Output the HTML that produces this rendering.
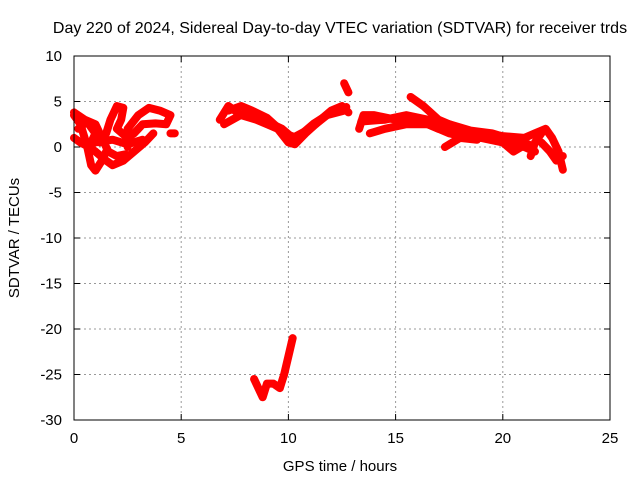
<!DOCTYPE html>
<html><head><meta charset="utf-8"><style>
body{margin:0;background:#fff}
svg{font-family:"Liberation Sans",sans-serif}
</style></head><body>
<svg width="640" height="480" xmlns="http://www.w3.org/2000/svg">
<rect width="640" height="480" fill="#fff"/>
<text x="340" y="33" font-size="16" text-anchor="middle">Day 220 of 2024, Sidereal Day-to-day VTEC variation (SDTVAR) for receiver trds</text>
<g id="grid"></g>
<g id="ticks"></g>
<g id="series"></g>
<rect x="74" y="56" width="536" height="364" fill="none" stroke="#000" stroke-width="1"/>
<text x="340" y="471" font-size="15" text-anchor="middle">GPS time / hours</text>
<text transform="translate(19,238) rotate(-90)" font-size="15" text-anchor="middle">SDTVAR / TECUs</text>
</svg>
<script>
const xTicks=[0,5,10,15,20,25];
const yTicks=[10,5,0,-5,-10,-15,-20,-25,-30];
const tracks=[
[[0,3.5],[0.3,2.5],[0.6,0.2],[0.8,-2],[1,-2.6],[1.3,-1.5],[1.5,-0.5]],
[[0,1],[0.3,0.5],[0.7,0],[1,-0.5],[1.5,-1.5],[1.8,-2],[2.3,-1.5],[2.8,-0.5],[3.3,0.5],[3.7,1.5]],
[[0,3.8],[0.5,3],[1,2.5],[1.3,1],[1.6,-0.5],[2,-1],[2.4,-0.8]],
[[0.2,2],[0.6,2.8],[1,1.5],[0.8,0.5]],
[[1.2,0.5],[1.5,1.5],[1.7,3],[2,4.5],[2.3,4.3],[2.2,3],[2,2],[2.5,1]],
[[2.5,0],[2.5,2],[3,3.5],[3.5,4.3],[4,4],[4.5,3.5],[4.3,2.5],[3.8,2.6],[3.2,2.5],[2.8,1.5],[2.5,1]],
[[1,0.5],[1.8,0.8],[2.5,0.3],[3.2,0.8]],
[[4.5,1.5],[4.7,1.5]],
[[6.8,3],[7.2,4.5],[7.8,3.5],[8.5,3],[9,2.5],[9.5,2],[10,0.5],[10.3,0.3],[10.8,1.5],[11.5,3],[12,4],[12.5,4.5],[12.8,3.8]],
[[7,2.5],[8,3.8],[8.8,3],[9.7,2],[10.2,1],[11,2],[11.8,3.5],[12.6,4]],
[[7.2,4],[7.8,4.5],[8.3,4],[9,3.2],[9.8,1.5],[10.4,1],[11.2,2.6],[12,3.8],[12.7,4.4]],
[[12.6,7],[12.8,6]],
[[13.3,2],[13.5,3.5],[14,3.5],[15,3],[16,3],[17,2],[18,1.5],[19,1],[20,0.5],[21,0],[21.5,-0.5]],
[[13.4,2.8],[14.5,3],[15.5,3.5],[16.5,3],[17.5,2.5],[18.5,1.8],[19.5,1.5],[20.5,0.8],[21.2,0.3]],
[[13.8,1.5],[14.5,2],[15.5,2.5],[16.5,2.5],[17.5,1.5],[18.5,1],[19.5,1],[20.5,1]],
[[15.7,5.5],[16.3,4.5],[17,3],[18,2],[19,1.5],[20,1.2],[21,1],[21.5,1.5],[22,2],[22.3,1],[22.6,-0.5],[22.8,-2.5]],
[[17.3,0],[18,1],[18.8,0.8]],
[[20,0.5],[20.5,-0.5],[21,0.2]],
[[21.3,-1],[21.5,0.5],[21.8,1.5]],
[[21.8,0.5],[22.2,-0.5],[22.5,-1.5],[22.8,-1]],
[[8.4,-25.5],[8.6,-26.5],[8.8,-27.5],[9,-26],[9.3,-26],[9.6,-26.5],[9.8,-25],[10,-23],[10.2,-21]]
];
const X=v=>74+v*536/25, Y=v=>420-(v+30)*364/40;
const NS='http://www.w3.org/2000/svg';
const mk=(t,a,p)=>{const e=document.createElementNS(NS,t);for(const k in a)e.setAttribute(k,a[k]);p.appendChild(e);return e;};
const grid=document.getElementById('grid'),ticks=document.getElementById('ticks'),ser=document.getElementById('series');
xTicks.forEach(t=>{
 if(t>0&&t<25){const l=mk('line',{x1:X(t),x2:X(t),y1:56,y2:420,stroke:'#999','stroke-dasharray':'2,3'},grid);
 }
 mk('line',{x1:X(t),x2:X(t),y1:420,y2:414,stroke:'#000'},ticks);
 mk('line',{x1:X(t),x2:X(t),y1:56,y2:62,stroke:'#000'},ticks);
 const tx=mk('text',{x:X(t),y:443,'font-size':15,'text-anchor':'middle'},ticks);tx.textContent=t;
 
});
yTicks.forEach(t=>{
 if(t>-30&&t<10){const l=mk('line',{x1:74,x2:610,y1:Y(t),y2:Y(t),stroke:'#999','stroke-dasharray':'2,3'},grid);
 }
 mk('line',{x1:74,x2:80,y1:Y(t),y2:Y(t),stroke:'#000'},ticks);
 mk('line',{x1:610,x2:604,y1:Y(t),y2:Y(t),stroke:'#000'},ticks);
 const tx=mk('text',{x:62,y:Y(t)+5,'font-size':15,'text-anchor':'end'},ticks);tx.textContent=t;
 
});
tracks.forEach(tr=>{
 const p=mk('polyline',{points:tr.map(d=>X(d[0])+','+Y(d[1])).join(' '),fill:'none',stroke:'#f00','stroke-width':8,'stroke-linejoin':'round','stroke-linecap':'round'},ser);
 
 
});
</script>
</body></html>
